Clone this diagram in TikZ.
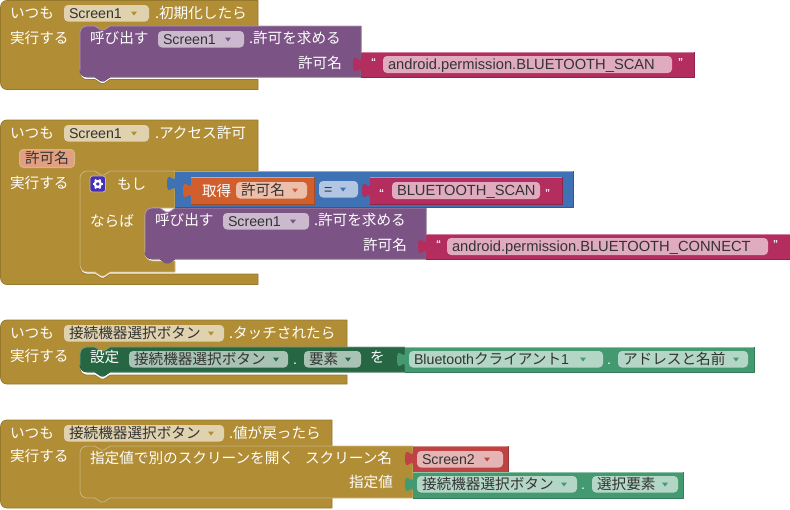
\documentclass[tikz,border=0pt]{standalone}
\usepackage{fontspec}
\setmainfont{Liberation Sans}
\newfontfamily\jp[Scale=1.03]{Noto Sans CJK JP}
\definecolor{gold}{HTML}{B18E35}\definecolor{goldD}{HTML}{8E722A}\definecolor{goldL}{HTML}{D0BB86}\definecolor{goldP}{HTML}{E0D2AE}
\definecolor{purp}{HTML}{7C5385}\definecolor{purpD}{HTML}{63426A}\definecolor{purpL}{HTML}{B09AB5}\definecolor{purpP}{HTML}{CBBACE}
\definecolor{crim}{HTML}{B32D5E}\definecolor{crimD}{HTML}{8F244B}\definecolor{crimL}{HTML}{D1819E}\definecolor{crimP}{HTML}{E1ABBF}
\definecolor{blu}{HTML}{3F71B5}\definecolor{bluD}{HTML}{325A91}\definecolor{bluL}{HTML}{8CAAD3}\definecolor{bluP}{HTML}{B2C6E1}
\definecolor{oran}{HTML}{D05F2D}\definecolor{oranD}{HTML}{A64C24}\definecolor{oranL}{HTML}{E3A081}\definecolor{oranP}{HTML}{ECBFAB}
\definecolor{dgr}{HTML}{266643}\definecolor{dgrD}{HTML}{1E5236}\definecolor{dgrL}{HTML}{7DA38E}\definecolor{dgrP}{HTML}{A8C2B4}
\definecolor{lgr}{HTML}{439970}\definecolor{lgrD}{HTML}{367A5A}\definecolor{lgrL}{HTML}{8EC2A9}\definecolor{lgrP}{HTML}{B4D6C6}
\definecolor{redb}{HTML}{BF4343}\definecolor{redbD}{HTML}{993636}\definecolor{redbL}{HTML}{D98E8E}\definecolor{redbP}{HTML}{E5B4B4}
\definecolor{pilltxt}{HTML}{333333}
\newcounter{tn}
\tikzset{lbl/.style={anchor=base west,inner sep=0pt,outer sep=0pt,font=\fontsize{14.2}{14}\selectfont},
  wlbl/.style={lbl,text=white},dlbl/.style={lbl,text=pilltxt},
  slbl/.style={dlbl,font=\fontsize{14.7}{14}\selectfont},
  edge/.style={line width=0.7pt,line join=round}}
% white text: x, baseline y, text
\newcommand{\wt}[3]{\stepcounter{tn}\node[wlbl] (t\arabic{tn}) at (#1,#2) {#3};}
% pill: x1,y1,x2,arrow centre,fill,arrow colour,text
\newcommand{\pill}[7]{\fill[#5,rounded corners=4pt] (#1,#2) rectangle (#3,#2+16.5);
  \fill[#6] ({#4-3},#2+6.5) -- ({#4+3},#2+6.5) -- (#4,#2+10.5) -- cycle;
  \stepcounter{tn}\node[dlbl] (t\arabic{tn}) at (#1+5,#2+13) {#7};}
% string pill without arrow
\newcommand{\spill}[5]{\fill[#4,rounded corners=4pt] (#1,#2) rectangle (#3,#2+17);
  \stepcounter{tn}\node[slbl] (t\arabic{tn}) at (#1+5,#2+13) {#5};}
% value block: x1,y1,x2,y2,base colour name
\newcommand{\vblock}[5]{\fill[#5] (#1,#2) rectangle (#3,#4);
  \draw[edge,#5L] (#1,#2+.3) -- (#3,#2+.3);
  \draw[edge,#5D] (#3,#2) -- (#3,#4) -- (#1,#4);}
% puzzle tab: x, y of start, colour name
\newcommand{\ptab}[3]{\fill[#3] (#1+.5,#2) -- (#1,#2) .. controls (#1,#2+10) and ({#1-8},#2-8) .. ({#1-8},#2+7.5) .. controls ({#1-8},#2+23) and (#1,#2+5) .. (#1,#2+15) -- (#1+.5,#2+15) -- cycle;}
% statement block
\newcommand{\stmtpath}[4]{(#1,#2+7) .. controls (#1,#2+3) and (#1+3,#2) .. (#1+7,#2) -- (#1+15,#2) -- (#1+21,#2+4) -- (#1+24,#2+4) -- (#1+30,#2) -- (#3,#2) -- (#3,#4) -- (#1+30,#4) -- (#1+24,#4+4) -- (#1+21,#4+4) -- (#1+15,#4) -- (#1+7,#4) .. controls (#1+3,#4) and (#1,#4-3) .. (#1,#4-7) -- cycle}
\newcommand{\stmt}[5]{\fill[#5] \stmtpath{#1}{#2}{#3}{#4};
  \draw[edge,#5L] \stmtpath{#1}{#2}{#3}{#4};
  \draw[edge,#5D] (#3,#2) -- (#3,#4) -- (#1+30,#4) -- (#1+24,#4+4) -- (#1+21,#4+4) -- (#1+15,#4) -- (#1+7,#4) .. controls (#1+3,#4) and (#1,#4-3) .. (#1,#4-7);}
% event block: right,top,header bottom,inner left,bar top,bottom
\newcommand{\event}[6]{\filldraw[edge,draw=gold!85!black,fill=gold] (7,#2) -- (#1,#2) -- (#1,#3) -- (#4+30,#3) -- (#4+24,#3+4) -- (#4+21,#3+4) -- (#4+15,#3) -- (#4+7,#3) .. controls (#4+3,#3) and (#4,#3+3) .. (#4,#3+7) -- (#4,#5-7) .. controls (#4,#5-3) and (#4+3,#5) .. (#4+7,#5) -- (#4+15,#5) -- (#4+21,#5+4) -- (#4+24,#5+4) -- (#4+30,#5) -- (#1,#5) -- (#1,#6) -- (7,#6) .. controls (3,#6) and (0.5,#6-3) .. (0.5,#6-7) -- (0.5,#2+7) .. controls (0.5,#2+3) and (3,#2) .. (7,#2) -- cycle;}
% quotes
\newcommand{\qo}[2]{\stepcounter{tn}\node[wlbl,font=\bfseries\fontsize{10}{10}\selectfont] (t\arabic{tn}) at (#1,#2) {“};}
\newcommand{\qc}[2]{\stepcounter{tn}\node[wlbl,font=\bfseries\fontsize{10}{10}\selectfont] (t\arabic{tn}) at (#1,#2) {”};}
\begin{document}
\begin{tikzpicture}[x=1pt,y=-1pt]
\useasboundingbox (0,0) rectangle (790,509);
%% ---- block 1
\event{258}{0.5}{26}{80}{79.5}{89.5}
\stmt{80}{26}{361}{77}{purp}
\vblock{361}{52}{694}{77}{crim}
\ptab{361}{57}{crim}
\wt{10}{18}{\jp いつも}
\pill{64}{5}{149}{134}{goldP}{gold}{Screen1}
\wt{155}{18}{\jp .初期化したら}
\wt{10}{43}{\jp 実行する}
\wt{90}{43}{\jp 呼び出す}
\pill{158}{31}{244}{228}{purpP}{purp}{Screen1}
\wt{249}{43}{\jp .許可を求める}
\wt{298}{68}{\jp 許可名}
\qo{371}{65}
\spill{383}{56}{672}{crimP}{android.permission.BLUETOOTH\_SCAN}
\qc{678}{65}
%% ---- block 2
\event{258}{120}{171}{80}{274}{284.5}
\filldraw[edge,draw=goldL,fill=gold] (80,178) .. controls (80,174) and (83,171) .. (87,171) -- (95,171) -- (101,175) -- (104,175) -- (110,171) -- (175,171) -- (175,208) -- (175,208) -- (153,208) .. controls (149,208) and (145,211) .. (145,215) -- (145,254) .. controls (145,258) and (149,261) .. (153,261) -- (175,261) -- (175,272) -- (110,272) -- (104,276) -- (101,276) -- (95,272) -- (87,272) .. controls (83,272) and (80,269) .. (80,265) -- cycle;
\stmt{145}{208}{426}{259}{purp}
\vblock{175}{171}{573}{207}{blu}
\ptab{175}{176}{blu}
\vblock{191}{177}{314}{204}{oran}
\ptab{191}{183}{oran}
\vblock{370}{177}{562}{204}{crim}
\ptab{370}{183}{crim}
\vblock{426}{234}{790}{259}{crim}
\ptab{426}{239}{crim}
\wt{10}{138}{\jp いつも}
\pill{64}{125}{149}{134}{goldP}{gold}{Screen1}
\wt{155}{138}{\jp .アクセス許可}
\filldraw[draw=goldL,line width=1pt,fill=oran!60!white,rounded corners=4pt] (19.5,149.5) rectangle (74.5,167.5);
\stepcounter{tn}\node[dlbl] (t\arabic{tn}) at (25,163.5) {\jp 許可名};
\wt{10}{188}{\jp 実行する}
\filldraw[draw=goldL,line width=.8pt,fill=blue!45!purp,rounded corners=2.5pt] (90,176) rectangle (105.5,192);
\draw[white,line width=2.2pt] (97.8,184) circle (3pt);
\foreach \a in {0,60,...,300}{\draw[white,line width=1.8pt] (97.8,184) ++(\a:3.8pt) -- ++(\a:1.4pt);}
\wt{117}{189}{\jp もし}
\wt{90}{226}{\jp ならば}
\wt{202}{196}{\jp 取得}
\pill{236}{182}{307}{295}{oranP}{oran}{\jp 許可名}
\pill{319}{181}{358}{343}{bluP}{blu}{=}
\qo{379}{196}
\spill{392}{182}{540}{crimP}{BLUETOOTH\_SCAN}
\qc{545}{196}
\wt{155}{225}{\jp 呼び出す}
\pill{223}{213}{309}{293}{purpP}{purp}{Screen1}
\wt{314}{225}{\jp .許可を求める}
\wt{363}{250}{\jp 許可名}
\qo{436}{247}
\spill{447}{238}{768}{crimP}{android.permission.BLUETOOTH\_CONNECT}
\qc{773}{247}
%% ---- block 3
\event{347}{320}{347}{80}{375}{384}
\stmt{80}{347}{405}{372}{dgr}
\vblock{405}{347}{754}{372}{lgr}
\ptab{405}{352}{lgr}
\wt{10}{338}{\jp いつも}
\pill{64}{325}{224}{211}{goldP}{gold}{\jp 接続機器選択ボタン}
\wt{229}{338}{\jp .タッチされたら}
\wt{10}{361}{\jp 実行する}
\wt{90}{362}{\jp 設定}
\pill{129}{351}{288}{276}{dgrP}{dgr}{\jp 接続機器選択ボタン}
\wt{293}{364}{.}
\pill{304}{351}{361}{348}{dgrP}{dgr}{\jp 要素}
\wt{370}{362}{\jp を}
\pill{409}{351}{603}{583}{lgrP}{lgr}{Bluetooth{\jp クライアント}1}
\wt{607}{364}{.}
\pill{618}{351}{748}{736}{lgrP}{lgr}{\jp アドレスと名前}
%% ---- block 4
\event{332}{420}{446}{80}{498}{508}
\filldraw[edge,draw=goldL,fill=gold] \stmtpath{80}{446}{413}{498};
\vblock{413}{446}{508}{472}{redb}
\ptab{413}{451}{redb}
\vblock{413}{472}{683}{498}{lgr}
\ptab{413}{477}{lgr}
\wt{10}{438}{\jp いつも}
\pill{64}{425}{224}{211}{goldP}{gold}{\jp 接続機器選択ボタン}
\wt{229}{438}{\jp .値が戻ったら}
\wt{10}{461}{\jp 実行する}
\wt{90}{463}{\jp 指定値で別のスクリーンを開く}
\wt{305}{463}{\jp スクリーン名}
\wt{349}{487}{\jp 指定値}
\pill{417}{451}{503}{487}{redbP}{redb}{Screen2}
\pill{417}{476}{577}{564}{lgrP}{lgr}{\jp 接続機器選択ボタン}
\wt{581}{489}{.}
\pill{592}{476}{678}{665}{lgrP}{lgr}{\jp 選択要素}
\end{tikzpicture}
\end{document}
